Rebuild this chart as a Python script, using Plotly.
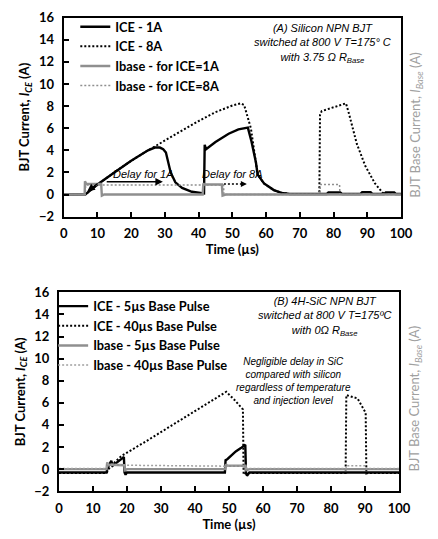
import plotly.graph_objects as go

# ---------------- Panel (A) Silicon NPN BJT ----------------
a_ice1_t = [0, 3, 6.4, 6.8, 10, 15, 20, 25, 27, 28.5, 29.5, 30.3, 31.7, 33.1, 35.1, 38, 41, 41.6, 41.8, 42.2,
            45, 48.9, 51.8, 54.6, 55.6, 57, 57.5, 59.4, 62.3, 64.6, 67, 78, 78.5, 80, 82, 82.5, 88, 88.5, 91,
            91.5, 95, 95.5, 98, 98.5, 100]
a_ice1_v = [0, 0, 0, 0.1, 0.9, 2.0, 3.05, 4.0, 4.25, 4.25, 4.1, 3.8, 2.0, 1.1, 0.6, 0.25, 0.1, 0.1, 4.5, 4.1,
            4.75, 5.5, 5.9, 6.05, 4.9, 2.9, 1.8, 1.0, 0.4, 0.15, 0.05, 0.05, 0.18, 0.2, 0.18, 0.05, 0.05, 0.2,
            0.2, 0.05, 0.05, 0.18, 0.18, 0.05, 0.05]

a_ice8_t = [0, 6.4, 6.8, 10, 15, 20, 25, 30, 35, 40, 45, 50, 52.5, 53.5, 55.5, 57, 57.5, 59.4, 62.3, 64.6, 67,
            75.8, 76, 76.5, 80, 83.7, 84.6, 86.9, 89.4, 92.3, 94.6, 97, 100]
a_ice8_v = [0, 0, 0.1, 0.9, 2.0, 3.05, 4.0, 4.9, 5.8, 6.65, 7.45, 8.05, 8.25, 8.1, 6.0, 2.9, 1.8, 1.0, 0.4,
            0.15, 0.05, 0.05, 7.2, 7.55, 7.9, 8.25, 7.3, 4.6, 2.6, 1.0, 0.15, 0.05, 0.05]

a_ib1_t = [0, 6.2, 6.3, 6.7, 11.1, 11.3, 12, 41.2, 41.4, 41.8, 46.9, 47.1, 48, 100]
a_ib1_v = [0, 0, 1.2, 0.95, 0.95, -0.1, 0, 0, 1.0, 0.9, 0.9, -0.1, 0, 0]

a_ib8_t = [0, 6.4, 6.5, 47.4, 47.5, 76, 76.1, 81.8, 81.9, 100]
a_ib8_v = [0, 0, 0.85, 0.85, 0, 0, 0.9, 0.9, 0, 0]

# ---------------- Panel (B) 4H-SiC NPN BJT ----------------
b_ice5_t = [0, 14.0, 14.3, 15.0, 15.4, 15.8, 16.5, 17.5, 18.5, 19.1, 19.3, 19.6, 20, 48.8, 49.0, 49.5, 50.5,
            52, 53.5, 54.8, 55.0, 55.3, 56, 100]
b_ice5_v = [-0.3, -0.3, 0.1, 0.5, 0.75, 0.3, 0.45, 0.7, 0.95, 1.1, -0.3, -0.5, -0.3, -0.3, 0.8, 0.9, 1.2,
            1.6, 1.9, 2.2, -0.3, -0.6, -0.3, -0.3]

b_ice40_t = [0, 14.0, 15, 18.4, 25, 30, 35, 40, 45, 49.2, 51.5, 54.1, 54.3, 55, 84.3, 84.5, 85.5, 87.8, 90.2,
             90.4, 91, 100]
b_ice40_v = [-0.35, -0.35, 0.2, 1.2, 2.4, 3.35, 4.3, 5.25, 6.15, 7.0, 6.3, 5.4, -0.5, -0.35, -0.35, 6.7, 6.6,
             6.4, 5.1, -0.4, -0.35, -0.35]

b_ib5_t = [0, 14.0, 14.2, 14.6, 15.2, 19.2, 19.4, 20, 48.9, 49.1, 49.5, 54.9, 55.1, 56, 100]
b_ib5_v = [0, 0, 0.6, 0.35, 0.4, 0.35, -0.1, 0, 0, 0.45, 0.3, 0.3, -0.1, 0, 0]

b_ib40_t = [0, 14.0, 14.2, 20, 54.2, 54.4, 84.4, 84.6, 90.3, 90.5, 100]
b_ib40_v = [0.05, 0.05, 0.45, 0.35, 0.25, 0.05, 0.05, 0.3, 0.3, 0.05, 0.05]

x_ticks = [0, 10, 20, 30, 40, 50, 60, 70, 80, 90, 100]
y_ticks = [-2, 0, 2, 4, 6, 8, 10, 12, 14, 16]

W, H = 438, 539
BLACK = "#000000"
GRAY = "#8f8f8f"
LGRAY = "#a0a0a0"
FONT = "Lato"

fig = go.Figure()

def add(t, v, name, color, width, dash, xa, ya, legend):
    fig.add_trace(go.Scatter(x=t, y=v, mode="lines", name=name, xaxis=xa, yaxis=ya, legend=legend,
                             line=dict(color=color, width=width, dash=dash)))

add(a_ice1_t, a_ice1_v, "ICE - 1A", BLACK, 2.4, "solid", "x", "y", "legend")
add(a_ice8_t, a_ice8_v, "ICE - 8A", BLACK, 2, "2px,2px", "x", "y", "legend")
add(a_ib1_t, a_ib1_v, "Ibase - for ICE=1A", GRAY, 2.4, "solid", "x", "y3", "legend")
add(a_ib8_t, a_ib8_v, "Ibase - for ICE=8A", GRAY, 1.5, "2px,2px", "x", "y3", "legend")

add(b_ice5_t, b_ice5_v, "ICE - 5µs Base Pulse", BLACK, 2.4, "solid", "x2", "y2", "legend2")
add(b_ice40_t, b_ice40_v, "ICE - 40µs Base Pulse", BLACK, 2, "2px,2px", "x2", "y2", "legend2")
add(b_ib5_t, b_ib5_v, "Ibase - 5µs Base Pulse", GRAY, 2.4, "solid", "x2", "y4", "legend2")
add(b_ib40_t, b_ib40_v, "Ibase - 40µs Base Pulse", LGRAY, 1.5, "2px,2px", "x2", "y4", "legend2")

def px_x(p):
    return p / W

def px_y(p):
    return 1 - p / H

top_x = [px_x(62), px_x(412)]
top_y = [px_y(215), px_y(10)]
bot_x = [px_x(57), px_x(410)]
bot_y = [px_y(498), px_y(293)]

tickfont = dict(family=FONT, size=13, color=BLACK, weight="bold")
titlefont = dict(family=FONT, size=13, color=BLACK, weight="bold")

def xax(domain, anchor):
    return dict(domain=domain, anchor=anchor, range=[0, 100], tickvals=x_ticks, ticks="inside",
                ticklen=5, tickwidth=2, tickcolor=BLACK, showline=True, linecolor=BLACK, linewidth=2,
                mirror=True, showgrid=False, zeroline=False, tickfont=tickfont, ticklabelstandoff=4,
                title=dict(text="Time (µs)", font=titlefont, standoff=4))

def yax(domain, anchor):
    return dict(domain=domain, anchor=anchor, range=[-2, 16], tickvals=y_ticks, ticks="inside",
                ticklen=5, tickwidth=2, tickcolor=BLACK, showline=True, linecolor=BLACK, linewidth=2,
                mirror=True, showgrid=False, zeroline=False, tickfont=tickfont, ticklabelstandoff=5,
                title=dict(text="BJT Current, <i>I</i><sub><i>CE</i></sub> (A)", font=titlefont, standoff=6))

def yax_right(overlay, anchor):
    return dict(overlaying=overlay, anchor=anchor, side="right", range=[-2, 16], showticklabels=False,
                ticks="", showgrid=False, zeroline=False, showline=False)

legend_font = dict(family=FONT, size=12.8, color=BLACK, weight="bold")

fig.update_layout(
    width=W, height=H,
    margin=dict(l=0, r=0, t=0, b=0),
    paper_bgcolor="white", plot_bgcolor="white",
    showlegend=True,
    xaxis=xax(top_x, "y"),
    yaxis=yax(top_y, "x"),
    xaxis2=xax(bot_x, "y2"),
    yaxis2=yax(bot_y, "x2"),
    yaxis3=yax_right("y", "x"),
    yaxis4=yax_right("y2", "x2"),
    legend=dict(x=px_x(74), y=px_y(4), xanchor="left", yanchor="top", bgcolor="rgba(0,0,0,0)",
                font=legend_font, tracegroupgap=0, itemwidth=30),
    legend2=dict(x=px_x(51), y=px_y(292), xanchor="left", yanchor="top", bgcolor="rgba(0,0,0,0)",
                 font=legend_font, tracegroupgap=0, itemwidth=30),
)

ann_font = dict(family="Liberation Sans", size=11, color=BLACK, style="italic")
rtitle_font = dict(family=FONT, size=13, color=LGRAY)

annotations = [
    dict(xref="paper", yref="paper", x=px_x(331), y=px_y(37), xanchor="center", yanchor="middle",
         text="(A) Silicon NPN BJT<br>switched at 800 V T=175° C<br>with 3.75 Ω R<sub>Base</sub>",
         showarrow=False, font=ann_font, align="center"),
    dict(xref="paper", yref="paper", x=px_x(333), y=px_y(318), xanchor="center", yanchor="middle",
         text="(B) 4H-SiC NPN BJT<br>switched at 800 V T=175ºC<br>with 0Ω R<sub>Base</sub>",
         showarrow=False, font=ann_font, align="center"),
    dict(xref="paper", yref="paper", x=px_x(300), y=px_y(384), xanchor="center", yanchor="middle",
         text="Negligible delay in SiC<br>compared with silicon<br>regardless of temperature<br>and injection level",
         showarrow=False, font=dict(family="Liberation Sans", size=10, color=BLACK, style="italic"),
         align="center"),
    dict(xref="x", yref="y", x=23.7, y=1.9, text="Delay for 1A", showarrow=False,
         font=dict(family="Liberation Sans", size=11, color=BLACK, style="italic")),
    dict(xref="x", yref="y", x=50.0, y=1.9, text="Delay for 8A", showarrow=False,
         font=dict(family="Liberation Sans", size=11, color=BLACK, style="italic")),
    dict(xref="x", yref="y", x=29.4, y=1.15, ax=12.3, ay=1.15, axref="x", ayref="y", text="",
         showarrow=True, arrowhead=2, arrowsize=1, arrowwidth=1.5, arrowcolor=BLACK),
    dict(xref="x", yref="y", x=7.0, y=0.3, ax=10.5, ay=1.1, axref="x", ayref="y", text="",
         showarrow=True, arrowhead=2, arrowsize=1, arrowwidth=1.5, arrowcolor=BLACK),
    dict(xref="x", yref="y", x=54.3, y=0.95, ax=53.0, ay=0.95, axref="x", ayref="y", text="",
         showarrow=True, arrowhead=2, arrowsize=1, arrowwidth=1.2, arrowcolor=BLACK),
    dict(xref="paper", yref="paper", x=px_x(428), y=px_y(120), xanchor="center", yanchor="middle",
         text="BJT Base Current, <i>I</i><sub><i>Base</i></sub> (A)", textangle=-90, showarrow=False,
         font=rtitle_font),
    dict(xref="paper", yref="paper", x=px_x(427), y=px_y(402), xanchor="center", yanchor="middle",
         text="BJT Base Current, <i>I</i><sub><i>Base</i></sub> (A)", textangle=-90, showarrow=False,
         font=rtitle_font),
]
fig.update_layout(annotations=annotations)

fig.add_shape(type="line", xref="x", yref="y", x0=47.5, x1=53.5, y0=0.95, y1=0.95,
              line=dict(color=BLACK, width=1.5, dash="2px,2px"))

fig.write_html("out.html")
